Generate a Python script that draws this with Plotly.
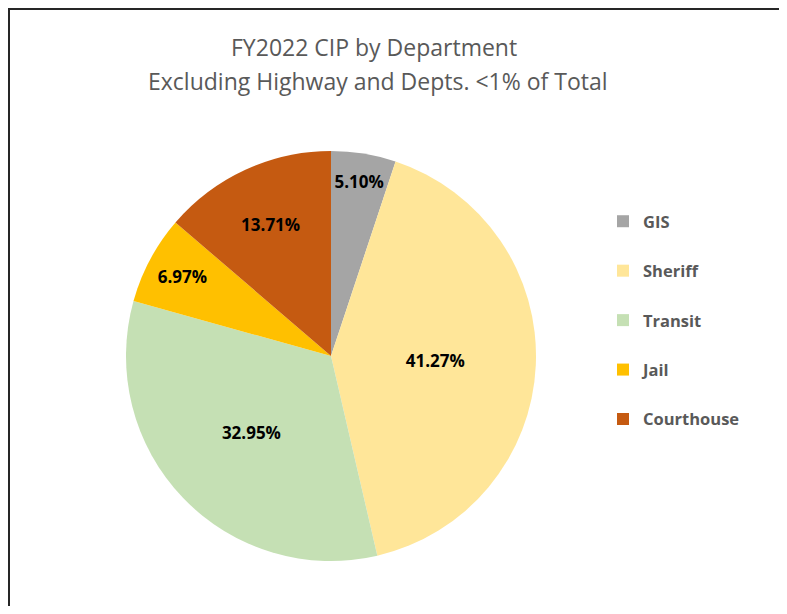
import plotly.graph_objects as go

# page is 787x614; the html body has an 8px default margin, so the figure
# is sized to fit inside it and all page positions are shifted by 8px.
OFF = 8
W, H = 787 - 2 * OFF, 614 - 2 * OFF

departments = ["GIS", "Sheriff", "Transit", "Jail", "Courthouse"]
shares = [5.10, 41.27, 32.95, 6.97, 13.71]
colors = ["#A5A5A5", "#FFE699", "#C5E0B4", "#FFC000", "#C55A11"]

title_line1 = "FY2022 CIP by Department"
title_line2 = "Excluding Highway and Depts. <1% of Total"

FONT = "Open Sans"
GREY = "#595959"


def px(x):
    return (x - OFF) / W


def py(y):
    return 1 - (y - OFF) / H


fig = go.Figure()

# pie geometry (page px): center (331,356), radius ~205
cx, cy, r = 331, 356, 205
fig.add_trace(go.Pie(
    labels=departments,
    values=shares,
    marker=dict(colors=colors, line=dict(width=0)),
    sort=False,
    direction="clockwise",
    rotation=0,
    textposition="inside",
    insidetextorientation="horizontal",
    texttemplate="%{value:.2f}%",
    textfont=dict(family=FONT, size=17, color="#000000", weight="bold"),
    showlegend=False,
    hoverinfo="label+percent",
    domain=dict(x=[px(cx - r), px(cx + r)], y=[py(cy + r), py(cy - r)]),
))

# legend entries (one per department, same colours)
for i, (d, c) in enumerate(zip(departments, colors)):
    fig.add_trace(go.Scatter(
        x=[None], y=[None], mode="markers", name=d,
        marker=dict(symbol="square", size=12, color=c),
        legendgroup=f"g{i}", showlegend=True, hoverinfo="skip",
    ))

fig.update_layout(
    width=W, height=H,
    margin=dict(l=0, r=0, t=0, b=0),
    paper_bgcolor="white",
    plot_bgcolor="white",
    xaxis=dict(visible=False),
    yaxis=dict(visible=False),
    font=dict(family=FONT, color=GREY),
    uniformtext=dict(minsize=17, mode="show"),
    legend=dict(
        x=px(603), y=py(204), xanchor="left", yanchor="top",
        font=dict(family=FONT, size=16.5, color=GREY, weight="bold"),
        tracegroupgap=25,
        bgcolor="rgba(0,0,0,0)",
        itemclick=False, itemdoubleclick=False,
    ),
    annotations=[
        dict(text=title_line1, x=px(374), y=py(47), xref="paper", yref="paper",
             showarrow=False, xanchor="center", yanchor="middle",
             font=dict(family=FONT, size=23, color=GREY)),
        dict(text=title_line2, x=px(378), y=py(81), xref="paper", yref="paper",
             showarrow=False, xanchor="center", yanchor="middle",
             font=dict(family=FONT, size=23, color=GREY)),
    ],
    shapes=[
        dict(type="line", xref="paper", yref="paper",
             x0=0, x1=0, y0=1, y1=0,
             line=dict(color="#262626", width=4)),
        dict(type="line", xref="paper", yref="paper",
             x0=0, x1=1, y0=1, y1=1,
             line=dict(color="#262626", width=4)),
    ],
)

fig.write_html("out.html", config=dict(displayModeBar=False))
